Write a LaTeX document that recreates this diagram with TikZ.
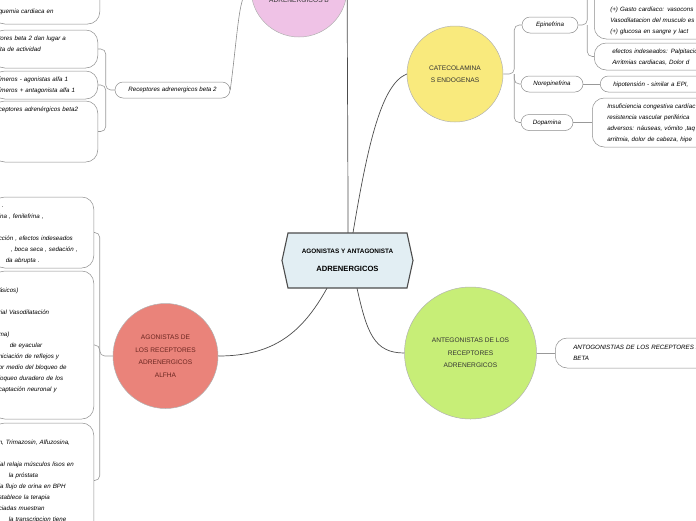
\documentclass[tikz,border=0pt]{standalone}
\usepackage{fontspec}
\setmainfont{Liberation Sans}
\usetikzlibrary{calc}
\definecolor{hubblue}{HTML}{E2EEF3}
\definecolor{alfared}{HTML}{EA837A}
\definecolor{antigreen}{HTML}{C7EE77}
\definecolor{catyellow}{HTML}{F9EA7D}
\definecolor{betapink}{HTML}{EFC2E6}
\definecolor{redtext}{HTML}{6A2620}
\begin{document}
\begin{tikzpicture}[x=1pt,y=-1pt,
	topic/.style={circle,draw=black!30,line width=0.5pt,inner sep=0pt,align=center,text=black!80,font=\fontsize{6.6}{12.5}\selectfont},
	leaf/.style={draw=black!45,line width=0.5pt,rounded corners=8pt,minimum height=16pt,inner sep=0pt,font=\fontsize{6.2}{11}\selectfont\itshape},
	note/.style={draw=black!45,line width=0.5pt,rounded corners=12pt,inner xsep=6pt,inner ysep=0pt,align=left,font=\fontsize{6.2}{11}\selectfont\itshape,execute at begin node=\strut,execute at end node=\strut},
	trunk/.style={draw=black!70,line width=0.7pt},
	limb/.style={draw=black!45,line width=0.6pt},
	twig/.style={draw=black!40,line width=0.6pt,rounded corners=5pt}]
\useasboundingbox (0,0) rectangle (696,520);
\clip (0,0) rectangle (696,520);
% centre
\filldraw[fill=hubblue,draw=black!70,line width=1.1pt] (282,260.5) -- (288,233) -- (407,233) -- (413,260.5) -- (407,288) -- (288,288) -- cycle;
\node[minimum width=131pt,minimum height=55pt,align=center,font=\bfseries\fontsize{6.4}{18}\selectfont] (hub) at (347.5,260.5) {AGONISTAS Y ANTAGONISTA\\{\fontsize{7.6}{18}\selectfont ADRENERGICOS}};
% main topics
\node[topic,fill=alfared,minimum size=105pt,text=redtext] (alfa) at (165.5,356) {AGONISTAS DE\\LOS RECEPTORES\\ADRENERGICOS\\ALFHA};
\node[topic,fill=antigreen,minimum size=132pt] (anta) at (470.5,353) {ANTEGONISTAS DE LOS\\RECEPTORES\\ADRENERGICOS};
\node[topic,fill=catyellow,minimum size=96pt] (cate) at (455,74) {CATECOLAMINA\\S ENDOGENAS};
\node[topic,fill=betapink,minimum size=96pt,font=\fontsize{6.6}{14}\selectfont] (beta) at (299,-11) {~\\~\\ADRENERGICOS B};
% small nodes
\node[leaf,minimum width=115pt] (rcpt) at (172.5,90) {Receptores adrenergicos beta 2};
\node[leaf,minimum width=56pt] (epi) at (550,25) {Epinefrina};
\node[leaf,minimum width=62pt] (nore) at (552,84) {Norepinefrina};
\node[leaf,minimum width=52pt] (dopa) at (547,122.5) {Dopamina};
% left notes
\node[note,anchor=east,text width=95pt,minimum height=37pt] (isq) at (100,5.5) {~\\quemia cardiaca en};
\node[note,anchor=east,text width=93pt,minimum height=38pt] (actv) at (98,49) {tores beta 2 dan lugar a\\lta de actividad\\~};
\node[note,anchor=east,text width=93pt,minimum height=28pt] (isom) at (98,85) {ímeros - agonistas alfa 1\\ímeros + antagonista alfa 1};
\node[note,anchor=east,text width=93pt,minimum height=61pt] (rb2) at (98,131.5) {ceptores adrenérgicos beta2\\~\\~\\~\\~};
\node[note,anchor=east,text width=89pt,minimum height=71pt] (feni) at (94,232.5) {\hspace*{3pt}.\\ina , fenilefrina ,\\~\\cción , efectos indeseados\\\hspace*{12pt}, boca seca , sedación ,\\\hspace*{7pt}da abrupta .};
\node[note,anchor=east,text width=89pt,minimum height=148pt] (vaso) at (94,345) {~\\ásicos)\\~\\rial Vasodilatación\\~\\ma)\\\hspace*{11pt}de eyacular\\niciación de reflejos y\\or medio del bloqueo de\\loqueo duradero de los\\captación neuronal y\\~\\~};
\node[note,anchor=east,text width=89pt,minimum height=115pt] (prazo) at (94,480.5) {~\\n, Trimazosin, Alfuzosina,\\~\\ial relaja músculos lisos en\\\hspace*{10pt}la próstata\\la flujo de orina en BPH\\stablece la terapia\\ciadas muestran\\\hspace*{10pt}la transcripcion tiene\\~};
% right notes
\node[note,anchor=west,text width=150pt,inner xsep=16pt,minimum height=104pt] (gasto) at (594,-13) {~\\~\\~\\~\\~\\~\\(+) Gasto cardíaco: vasocons\\Vasodilatacion del musculo es\\(+) glucosa en sangre y lact};
\node[note,anchor=west,text width=150pt,inner xsep=18pt,minimum height=27pt] (palp) at (594,56.5) {efectos indeseados: Palpitació\\Arritmias cardiacas, Dolor d};
\node[note,anchor=west,text width=150pt,inner xsep=13pt,minimum height=16pt,rounded corners=8pt] (hipo) at (600,84) {hipotensión - similar a EPI,};
\node[note,anchor=west,text width=150pt,inner xsep=15pt,minimum height=49pt] (insu) at (592,122.5) {Insuficiencia congestiva cardíac\\resistencia vascular periférica\\adversos: náuseas, vómito ,taq\\arritmia, dolor de cabeza, hipe};
\node[note,anchor=west,text width=150pt,inner xsep=18pt,minimum height=30pt] (abeta) at (555,353) {ANTOGONISTIAS DE LOS RECEPTORES A\\BETA};
% connectors
\draw[trunk] ($(hub.south)+(-20.5,0)$) .. controls +(-25,45) and +(55,0) .. (alfa.east);
\draw[trunk] ($(hub.south)+(9.5,0)$) .. controls +(10,45) and +(-30,0) .. (anta.west);
\draw[trunk] ($(hub.north)+(5.5,0)$) .. controls +(15,-90) and +(-25,10) .. (cate.west);
\draw[trunk] ($(hub.north)+(0.5,0)$) .. controls +(0,-80) and +(0,80) .. (beta.east);
\draw[limb] (beta.west) .. controls +(-12,0) and +(8,-60) .. (rcpt.east);
\coordinate (rj) at ($(rcpt.west)+(-9,0)$);
\draw[twig] (rcpt.west) -- (rj) |- (actv.east);
\draw[twig] (rj) |- (isom.east);
\draw[twig] (rj) |- (rb2.east);
\coordinate (aj) at ($(alfa.west)+(-13,0)$);
\draw[twig] (alfa.west) -- (aj) |- (feni.east);
\draw[twig] (aj) |- (vaso.east);
\draw[twig] (aj) |- (prazo.east);
\coordinate (cj) at ($(cate.east)+(11,0)$);
\draw[twig] (cate.east) -- (cj) |- (epi.west);
\draw[twig] (cj) |- (nore.west);
\draw[twig] (cj) |- (dopa.west);
\coordinate (ej) at ($(epi.east)+(9,0)$);
\draw[twig] (epi.east) -- (ej) |- (gasto.west);
\draw[twig] (ej) |- (palp.west);
\draw[twig] (nore.east) -- (hipo.west);
\draw[twig] (dopa.east) -- (insu.west);
\draw[twig] (anta.east) -- (abeta.west);
\end{tikzpicture}
\end{document}
